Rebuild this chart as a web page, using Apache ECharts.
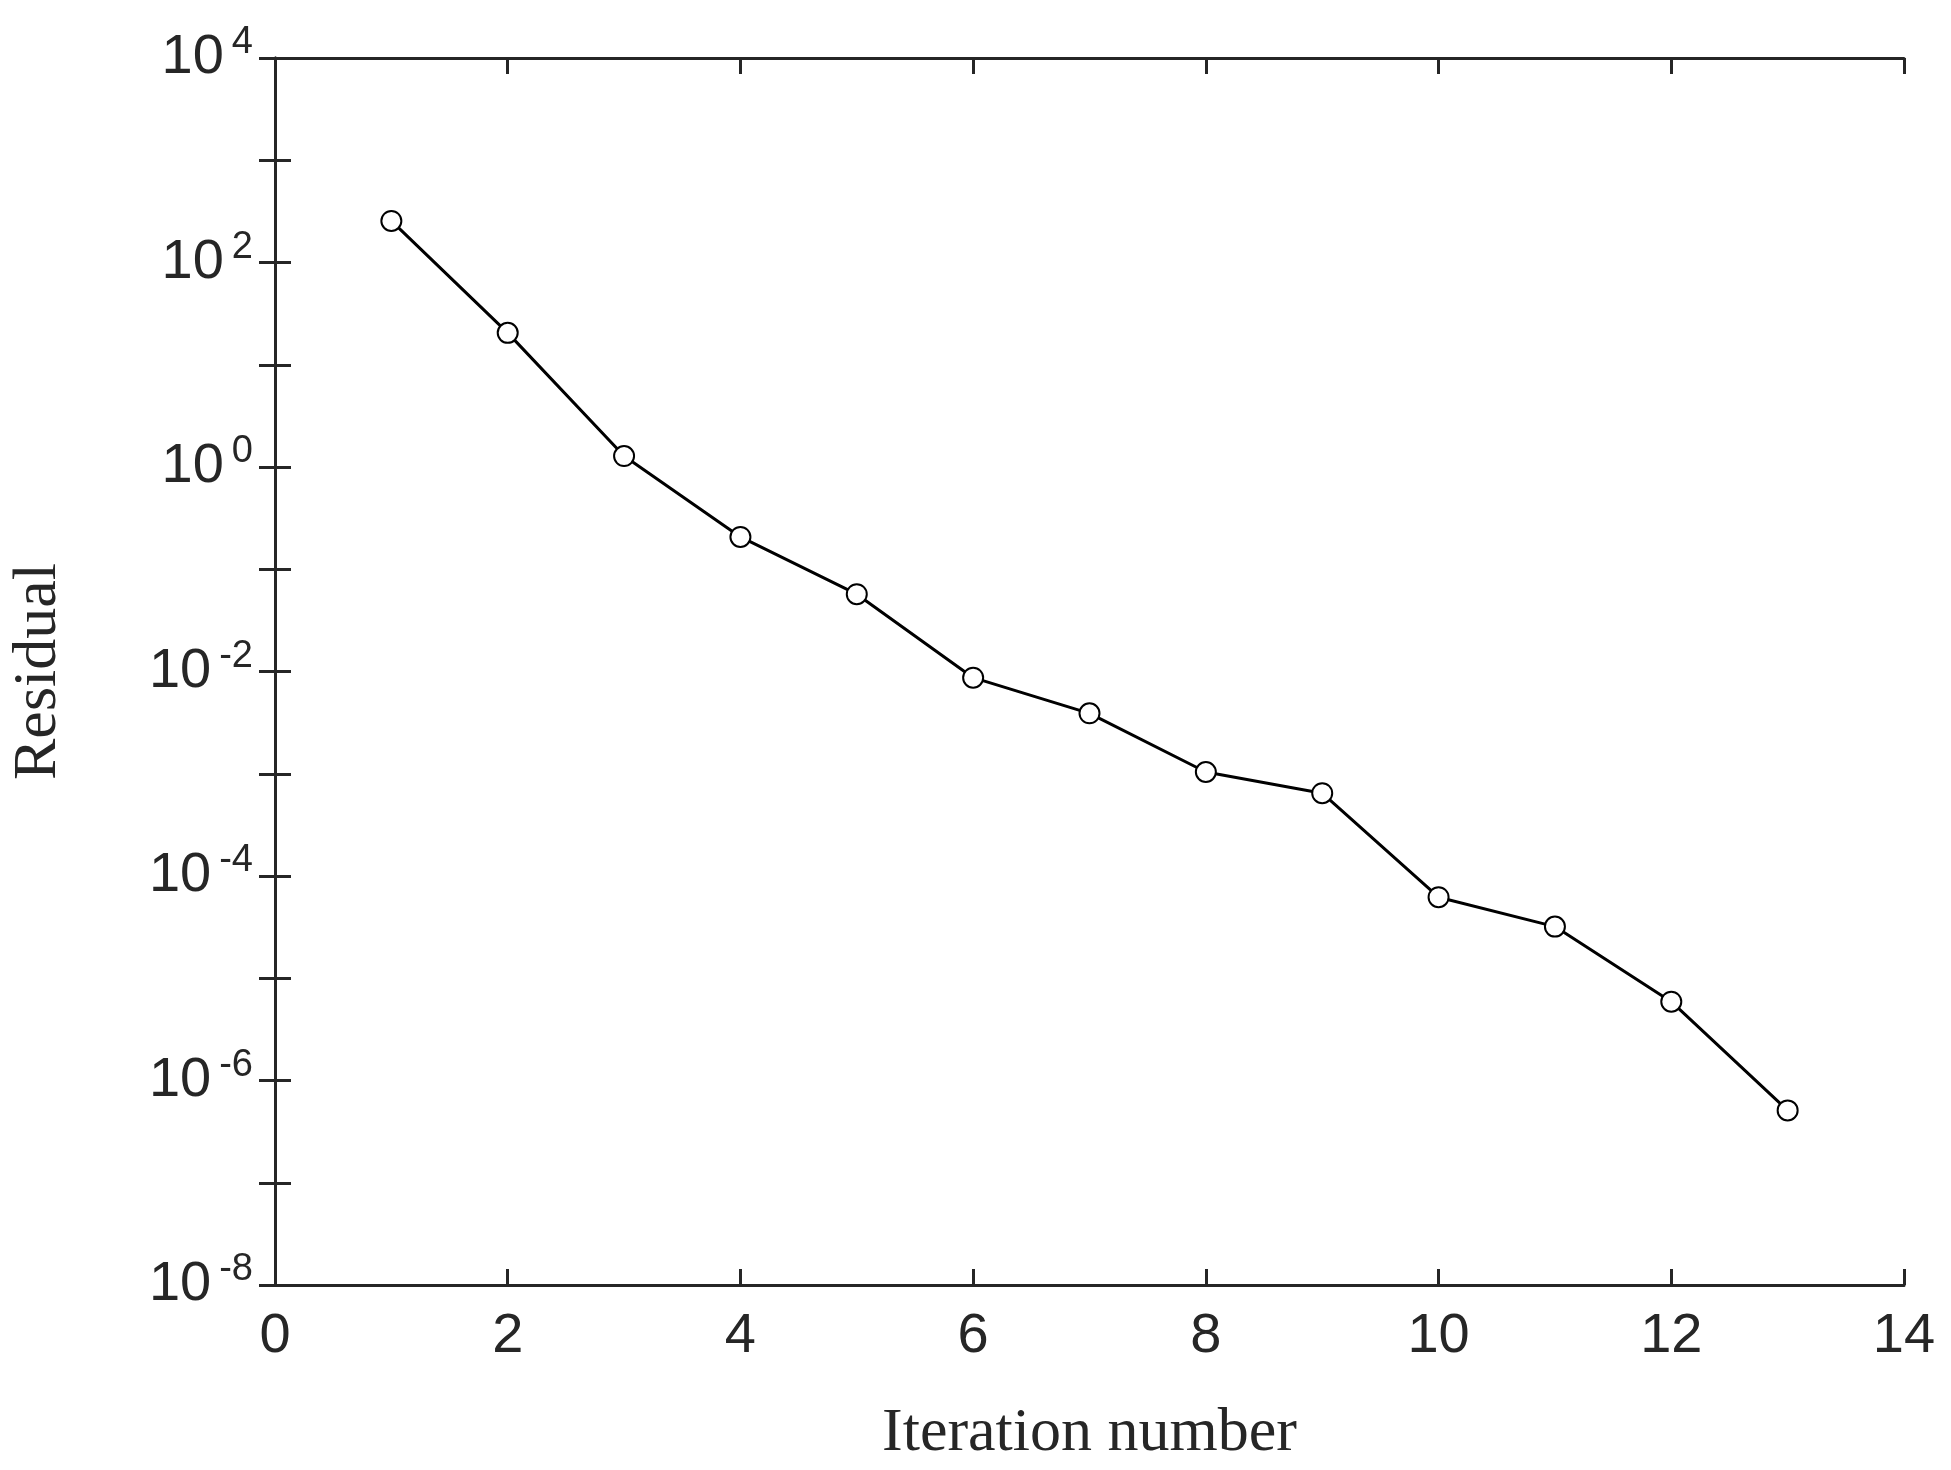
<!DOCTYPE html>
<html><head><meta charset="utf-8">
<script src="https://cdn.jsdelivr.net/npm/echarts@6/dist/echarts.min.js"></script>
<style>html,body{margin:0;padding:0;background:#fff}#c{width:1951px;height:1470px}</style>
</head><body><div id="c"></div>
<script>
const iterations = [1,2,3,4,5,6,7,8,9,10,11,12,13];
const residuals = [255, 20.5, 1.28, 0.207, 0.057, 0.0087, 0.0039, 0.00104, 0.000646, 6.2e-5, 3.2e-5, 5.9e-6, 5.1e-7];
const data = iterations.map((x,i)=>[x, residuals[i]]);
const lab = {color:'#262626', fontFamily:'Liberation Sans, Arial', fontSize:56};
const fmtY = v => { const e = Math.round(Math.log10(v)); return (e % 2 === 0) ? '10{s|' + e + '}' : ''; };
const chart = echarts.init(document.getElementById('c'));
chart.setOption({
  animation:false,
  grid:{left:259,right:47,top:58,bottom:185},
  xAxis:[{type:'value',min:0,max:14,interval:2,name:'Iteration number',nameLocation:'middle',nameGap:118,
    nameTextStyle:{fontFamily:'Liberation Serif, DejaVu Serif',fontSize:62,color:'#262626'},
    axisLine:{lineStyle:{color:'#262626',width:3}},axisTick:{inside:true,length:16,lineStyle:{width:3}},
    axisLabel:Object.assign({margin:24},lab),splitLine:{show:false}},
   {type:'value',position:'top',min:0,max:14,interval:2,axisLine:{lineStyle:{color:'#262626',width:3}},
    axisTick:{inside:true,length:16,lineStyle:{width:3}},axisLabel:{show:false},splitLine:{show:false}}],
  yAxis:[{type:'log',logBase:10,min:1e-8,max:1e4,interval:1,name:'Residual',nameLocation:'middle',nameGap:205,
    nameTextStyle:{fontFamily:'Liberation Serif, DejaVu Serif',fontSize:62,color:'#262626'},
    axisLine:{lineStyle:{color:'#262626',width:3}},axisTick:{inside:true,length:16,lineStyle:{width:3}},
    axisLabel:Object.assign({margin:22,formatter:fmtY,rich:{s:{fontSize:38,verticalAlign:'top',padding:[0,0,30,8],color:'#262626',fontFamily:'Liberation Sans, Arial'}}},lab),
    splitLine:{show:false}},
   {type:'log',logBase:10,min:1e-8,max:1e4,interval:1,position:'right',axisLine:{show:true,lineStyle:{color:'#262626',width:3}},
    axisTick:{show:true,inside:true,length:16,lineStyle:{width:3}},
    axisLabel:{show:false},splitLine:{show:false}}],
  series:[{type:'line',data:data,symbol:'emptyCircle',symbolSize:20,
    lineStyle:{color:'#000',width:3},itemStyle:{color:'#000',borderWidth:3,borderColor:'#000'}}]
});
</script></body></html>
